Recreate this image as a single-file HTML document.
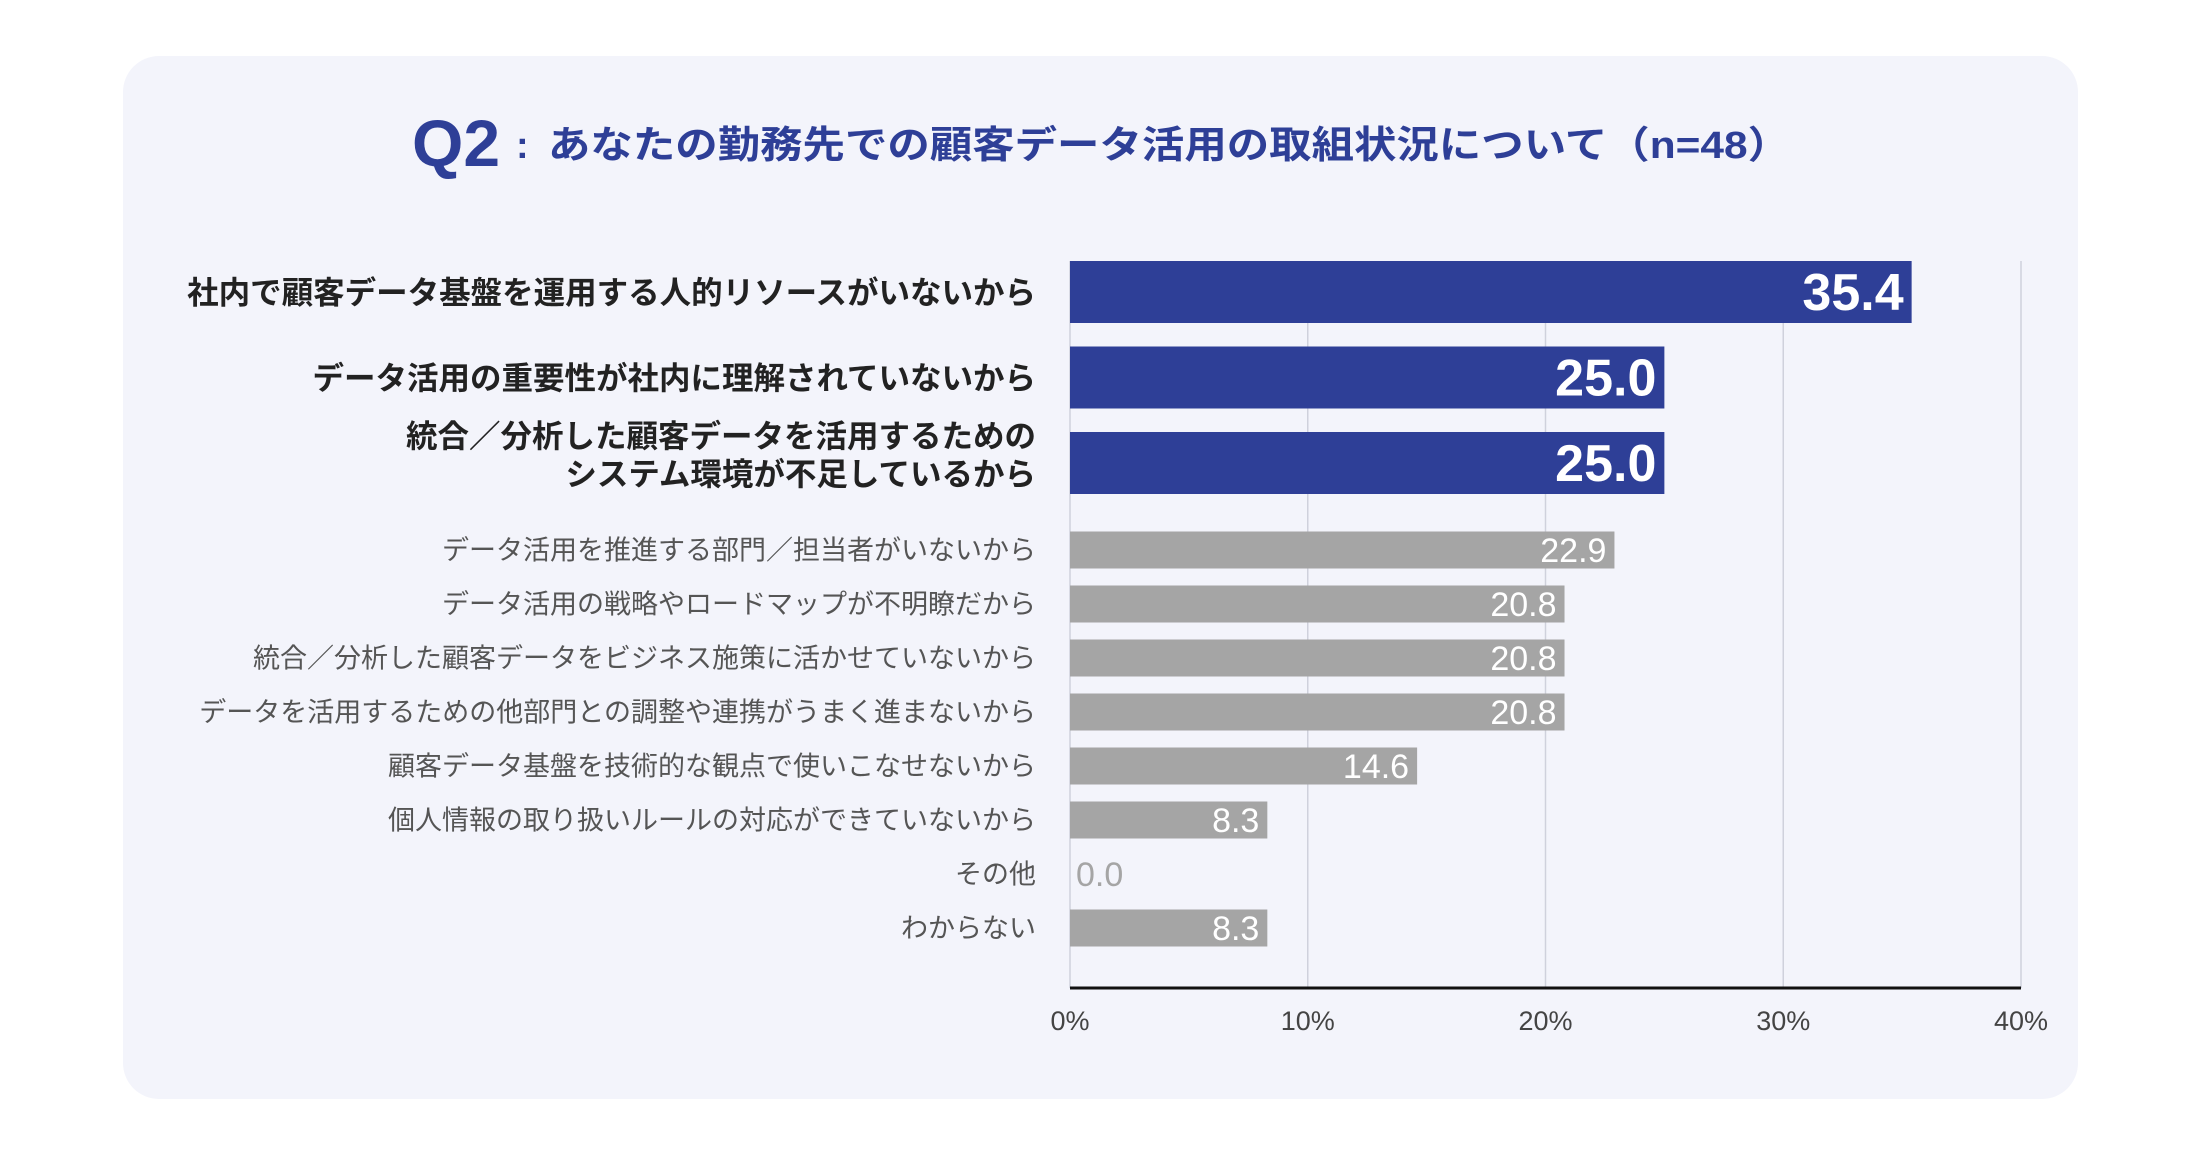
<!DOCTYPE html>
<html><head><meta charset="utf-8">
<style>
html,body{margin:0;padding:0;background:#fff;}
svg{display:block;font-family:"Liberation Sans","Noto Sans CJK JP",sans-serif;}
</style></head>
<body>
<svg id="chart" width="2191" height="1152" viewBox="0 0 2191 1152" xmlns="http://www.w3.org/2000/svg">
<rect x="123" y="56" width="1955" height="1043" rx="36" fill="#f3f4fb"/>
<g>
<text x="412" y="166" font-size="66" font-weight="bold" fill="#2e3f97">Q2</text>
<text x="516" y="158" font-size="38" font-weight="bold" fill="#2e3f97">:</text>
<text x="548" y="158" font-size="38" font-weight="bold" fill="#2e3f97" textLength="1242" lengthAdjust="spacingAndGlyphs">あなたの勤務先での顧客データ活用の取組状況について（n=48）</text>
</g>
<g id="grid"></g>
<g id="bars"></g>
<g id="labels"></g>
<g id="xaxis"></g>
</svg>
<script>
const categories = [
 ["社内で顧客データ基盤を運用する人的リソースがいないから"],
 ["データ活用の重要性が社内に理解されていないから"],
 ["統合／分析した顧客データを活用するための","システム環境が不足しているから"],
 ["データ活用を推進する部門／担当者がいないから"],
 ["データ活用の戦略やロードマップが不明瞭だから"],
 ["統合／分析した顧客データをビジネス施策に活かせていないから"],
 ["データを活用するための他部門との調整や連携がうまく進まないから"],
 ["顧客データ基盤を技術的な観点で使いこなせないから"],
 ["個人情報の取り扱いルールの対応ができていないから"],
 ["その他"],
 ["わからない"]
];
const values = [35.4, 25.0, 25.0, 22.9, 20.8, 20.8, 20.8, 14.6, 8.3, 0.0, 8.3];
const highlighted = [true, true, true, false, false, false, false, false, false, false, false];
const ticks = [0, 10, 20, 30, 40];
const tickLabels = ["0%", "10%", "20%", "30%", "40%"];

const NS = "http://www.w3.org/2000/svg";
const X0 = 1070, X1 = 2021, MAXV = 40;
const xs = v => X0 + (X1 - X0) * v / MAXV;
const rowCenter = i => i < 3 ? 292 + i * 85.5 : 550 + (i - 3) * 54;
function mk(tag, attrs, parent, txt) {
  const e = document.createElementNS(NS, tag);
  for (const k in attrs) e.setAttribute(k, attrs[k]);
  if (txt !== undefined) e.textContent = txt;
  parent.appendChild(e);
  return e;
}
const grid = document.getElementById('grid');
const bars = document.getElementById('bars');
const labels = document.getElementById('labels');
const xaxis = document.getElementById('xaxis');

ticks.forEach((t, i) => {
  if (t > 0) {
    const l = mk('line', {x1: xs(t), x2: xs(t), y1: 261, y2: 988, stroke: '#cfd1dc', 'stroke-width': 1.5}, grid);
    
    
  }
  const tl = mk('text', {x: xs(t), y: 1030, 'font-size': 27, fill: '#444', 'text-anchor': 'middle'}, xaxis, tickLabels[i]);
  
  
});
const ax = mk('line', {x1: X0, x2: X1, y1: 988, y2: 988, stroke: '#111', 'stroke-width': 3}, xaxis);


const ay = mk('line', {x1: X0, x2: X0, y1: 261, y2: 988, stroke: '#cfd1dc', 'stroke-width': 1.5}, grid);



values.forEach((v, i) => {
  const big = highlighted[i];
  const c = rowCenter(i);
  const h = big ? 62 : 37;
  const r = mk('rect', {x: X0, y: c - h / 2, width: xs(v) - X0, height: h, fill: big ? '#2e3f97' : '#a5a5a5'}, bars);
  
  
  const txt = v.toFixed(1);
  let vl;
  if (v > 0) {
    vl = mk('text', {x: xs(v) - 8, y: c + (big ? 18 : 12), 'font-size': big ? 52 : 34, fill: '#fff', 'text-anchor': 'end', 'font-weight': big ? 'bold' : 'normal'}, bars, txt);
  } else {
    vl = mk('text', {x: X0 + 6, y: c + 12, 'font-size': 34, fill: '#a5a5a5', 'text-anchor': 'start'}, bars, txt);
  }
  
  
  const lines = categories[i];
  lines.forEach((ln, j) => {
    const fs = big ? 31.5 : 27;
    const y = lines.length > 1 ? c - 8 + (j - 0.5) * 38 + 11 : c + fs * 0.36;
    const t = mk('text', {x: 1036, y: y, 'font-size': fs, 'font-weight': big ? 'bold' : 'normal', fill: big ? '#222' : '#555', 'text-anchor': 'end'}, labels, ln);
    
    
  });
});
</script>
</body></html>
